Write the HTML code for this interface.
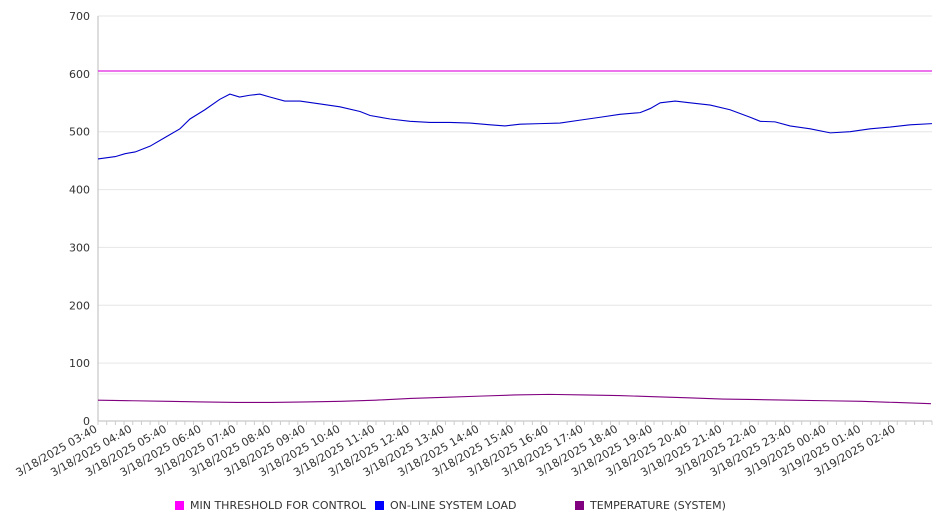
<!DOCTYPE html>
<html><head><meta charset="utf-8"><style>
body{margin:0;background:#fff;}
svg text{font-family:"DejaVu Sans","Liberation Sans",sans-serif;fill:#333;}
</style></head><body>
<svg id="chart" width="946" height="526" xmlns="http://www.w3.org/2000/svg">
<g id="grid"></g>
<g id="yaxis"></g>
<g id="xaxis"></g>
<g id="series"></g>
<g>
<rect x="175" y="501" width="9" height="9" fill="#ff00ff"/>
<text x="190" y="509" font-size="11">MIN THRESHOLD FOR CONTROL</text>
<rect x="375" y="501" width="9" height="9" fill="#0000ff"/>
<text x="390" y="509" font-size="11">ON-LINE SYSTEM LOAD</text>
<rect x="575" y="501" width="9" height="9" fill="#800080"/>
<text x="590" y="509" font-size="11">TEMPERATURE (SYSTEM)</text>
</g>
</svg>
<script>
const xLabels=["03:40","04:40","05:40","06:40","07:40","08:40","09:40","10:40","11:40","12:40","13:40","14:40","15:40","16:40","17:40","18:40","19:40","20:40","21:40","22:40","23:40","00:40","01:40","02:40"];
const yTicks=[0,100,200,300,400,500,600,700];
const loadHours=[0,0.5,0.78,1.07,1.5,1.93,2.36,2.65,3.08,3.51,3.8,4.08,4.37,4.66,4.95,5.38,5.82,6.4,6.97,7.55,7.84,8.42,8.99,9.57,10.14,10.72,11.3,11.73,12.16,12.74,13.31,13.89,14.47,15.04,15.62,15.91,16.2,16.63,17.06,17.64,18.21,18.79,19.08,19.51,19.94,20.52,21.1,21.67,22.25,22.82,23.4,24.03];
const loadValues=[453,457,462,465,475,490,505,522,538,556,565,560,563,565,560,553,553,548,543,535,528,522,518,516,516,515,512,510,513,514,515,520,525,530,533,540,550,553,550,546,538,525,518,517,510,505,498,500,505,508,512,514];
const tempHours=[0,1,2,3,4,5,6,7,8,9,10,11,12,13,14,15,16,17,18,19,20,21,22,23,24];
const tempValues=[36,35,34,33,32,32,33,34,36,39,41,43,45,46,45,44,42,40,38,37,36,35,34,32,30];
const thresholdValue=605;
const totalHours=24.03;
const X0=98,X1=932,Y0=421,Y1=16;
const xs=h=>X0+(h/totalHours)*(X1-X0);
const ys=v=>Y0-(v/700)*(Y0-Y1);
const NS="http://www.w3.org/2000/svg";
function mk(t,a,p){const e=document.createElementNS(NS,t);for(const k in a)e.setAttribute(k,a[k]);p.appendChild(e);return e;}
const grid=document.getElementById('grid'),ya=document.getElementById('yaxis'),xa=document.getElementById('xaxis'),se=document.getElementById('series');
yTicks.forEach(v=>{
 const l=mk('line',{x1:X0,x2:X1,y1:ys(v),y2:ys(v),stroke:v===0?'#bbb':'#e6e6e6','stroke-width':1},grid);
 
 
 const t=mk('text',{x:X0-8,y:ys(v)+4,'text-anchor':'end','font-size':11},ya);
 t.textContent=v;
 
 
});
const ax=mk('line',{x1:X0,x2:X0,y1:Y1,y2:Y0,stroke:'#bbb'},ya);


for(let i=0;i<=96;i++){const x=X0+i*(X1-X0)/96;const tk=mk('line',{x1:x,x2:x,y1:Y0,y2:Y0+4,stroke:'#ccc'},xa);
 
 }
xLabels.forEach((lb,i)=>{
 const x=xs(i),y=Y0+10;
 const t=mk('text',{x:x,y:y,'text-anchor':'end','font-size':11,transform:`rotate(-30 ${x} ${y})`},xa);
 t.textContent=(i>=21?"3/19/2025 ":"3/18/2025 ")+lb;
 
 
});
const th=mk('line',{x1:X0,x2:X1,y1:ys(thresholdValue),y2:ys(thresholdValue),stroke:'#e020e0','stroke-width':1.2},se);


const lp=mk('polyline',{points:loadHours.map((h,i)=>xs(h)+','+ys(loadValues[i])).join(' '),fill:'none',stroke:'#0000cc','stroke-width':1.1},se);


const tp=mk('polyline',{points:tempHours.map((h,i)=>xs(h)+','+ys(tempValues[i])).join(' '),fill:'none',stroke:'#800080','stroke-width':1.1},se);


</script>
</body></html>
